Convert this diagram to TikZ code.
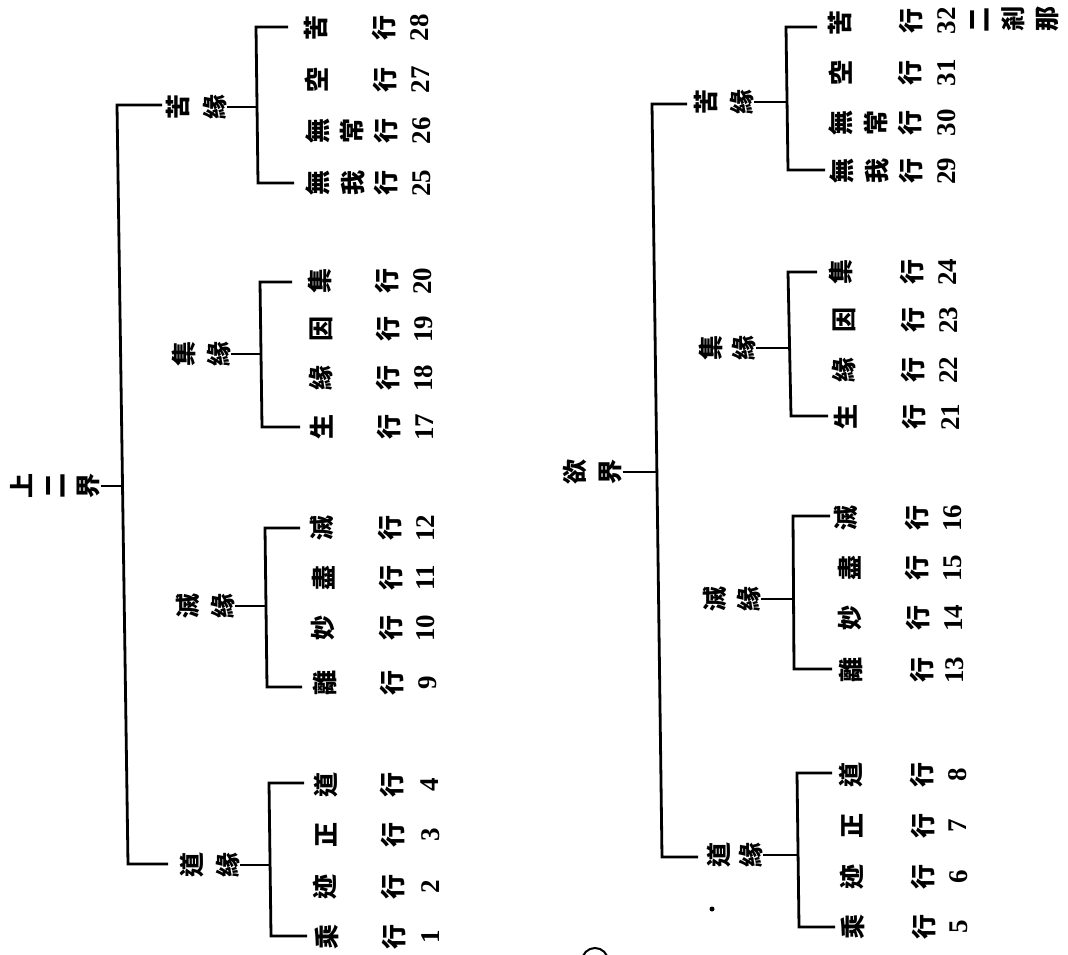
\documentclass[tikz,border=0pt]{standalone}
\usepackage{fontspec}
\newfontfamily\cjkfam{Noto Sans CJK TC}
\newfontfamily\numfam{Liberation Serif}
\newcommand\chr[3]{\node[ch] (#1) at (#2) {#3};}
\newcommand\nmb[3]{\node[num] (#1) at (#2) {#3};}
\begin{document}
\begin{tikzpicture}[x=1pt,y=-1pt,
  ch/.style={rotate=90,inner sep=0pt,font=\cjkfam\bfseries\fontsize{25}{25}\selectfont},
  num/.style={rotate=90,inner sep=0pt,font=\numfam\bfseries\fontsize{27}{27}\selectfont},
  ln/.style={line width=2.8pt,line join=miter,line cap=butt}]
\useasboundingbox (0,0) rectangle (1068,955);
\fill[white] (0,0) rectangle (1068,955);

% ---------------- left tree ----------------
\chr{Lr1}{22,486}{上}\chr{Lr2}{56,486}{二}\chr{Lr3}{89,486}{界}
\coordinate (LbT) at (117,105); \coordinate (LbB) at (128,864);
\coordinate (LbM) at (122.5,488);
\coordinate (LbTe) at (162,105); \coordinate (LbBe) at (168,864);
\draw[ln] (LbTe) -- (LbT) -- (LbB) -- (LbBe);
\draw[ln] (Lr3.south) -- (Lr3.south -| LbM);

% labels
\chr{Lk1}{178,107}{苦}\chr{Lk2}{215,107}{緣}
\chr{Lq1}{184,354}{集}\chr{Lq2}{219,354}{緣}
\chr{Lm1}{188,606}{滅}\chr{Lm2}{223,606}{緣}
\chr{Ld1}{192,865}{道}\chr{Ld2}{228,865}{緣}

% brackets
\coordinate (LkT) at (256,27); \coordinate (LkB) at (258,183); \coordinate (LkM) at (257,107);
\coordinate (Le28) at (288,27); \coordinate (Le25) at (294,183);
\draw[ln] (Le28) -- (LkT) -- (LkB) -- (Le25);
\draw[ln] (Lk2.south) -- (Lk2.south -| LkM);

\coordinate (LqT) at (260,282); \coordinate (LqB) at (262,427); \coordinate (LqM) at (261,354);
\coordinate (Le20) at (292,282); \coordinate (Le17) at (300,427);
\draw[ln] (Le20) -- (LqT) -- (LqB) -- (Le17);
\draw[ln] (Lq2.south) -- (Lq2.south -| LqM);

\coordinate (LmT) at (265,528); \coordinate (LmB) at (267,687); \coordinate (LmM) at (266,606);
\coordinate (Le12) at (300,528); \coordinate (Le9) at (302,687);
\draw[ln] (Le12) -- (LmT) -- (LmB) -- (Le9);
\draw[ln] (Lm2.south) -- (Lm2.south -| LmM);

\coordinate (LdT) at (269,783); \coordinate (LdB) at (271,936); \coordinate (LdM) at (270,865);
\coordinate (Le4) at (304,783); \coordinate (Le1) at (307,936);
\draw[ln] (Le4) -- (LdT) -- (LdB) -- (Le1);
\draw[ln] (Ld2.south) -- (Ld2.south -| LdM);

% leaves
\chr{L28a}{316,28}{苦}\chr{L28x}{384,28}{行}\nmb{L28n}{420,28}{28}
\chr{L27a}{317,80}{空}\chr{L27x}{385,80}{行}\nmb{L27n}{421,80}{27}
\chr{L26a}{318,131}{無}\chr{L26b}{352,131}{常}\chr{L26x}{386,131}{行}\nmb{L26n}{422,131}{26}
\chr{L25a}{318,183}{無}\chr{L25b}{353,183}{我}\chr{L25x}{386,183}{行}\nmb{L25n}{422,183}{25}
\chr{L20a}{320,281}{集}\chr{L20x}{387,281}{行}\nmb{L20n}{423,281}{20}
\chr{L19a}{321,329}{因}\chr{L19x}{388,329}{行}\nmb{L19n}{424,329}{19}
\chr{L18a}{321,378}{緣}\chr{L18x}{388,378}{行}\nmb{L18n}{424,378}{18}
\chr{L17a}{322,427}{生}\chr{L17x}{389,427}{行}\nmb{L17n}{425,427}{17}
\chr{L12a}{322,528}{滅}\chr{L12x}{390,528}{行}\nmb{L12n}{426,528}{12}
\chr{L11a}{324,578}{盡}\chr{L11x}{391,578}{行}\nmb{L11n}{426,578}{11}
\chr{L10a}{323,628}{妙}\chr{L10x}{391,628}{行}\nmb{L10n}{426,628}{10}
\chr{L9a}{325,683}{離}\chr{L9x}{392,683}{行}\nmb{L9n}{428,683}{9}
\chr{L4a}{326,785}{道}\chr{L4x}{392,785}{行}\nmb{L4n}{430,785}{4}
\chr{L3a}{326,835}{正}\chr{L3x}{393,835}{行}\nmb{L3n}{431,835}{3}
\chr{L2a}{325,887}{迹}\chr{L2x}{393,887}{行}\nmb{L2n}{431,887}{2}
\chr{L1a}{327,937}{乘}\chr{L1x}{394,937}{行}\nmb{L1n}{431,937}{1}

% ---------------- right tree ----------------
\chr{Rr1}{575,472}{欲}\chr{Rr2}{611,472}{界}
\coordinate (RbT) at (652,104); \coordinate (RbB) at (662,857);
\coordinate (RbM) at (657,472);
\coordinate (RbTe) at (687,104); \coordinate (RbBe) at (698,857);
\draw[ln] (RbTe) -- (RbT) -- (RbB) -- (RbBe);
\draw[ln] (Rr2.south) -- (Rr2.south -| RbM);

\chr{Rk1}{706,102}{苦}\chr{Rk2}{742,102}{緣}
\chr{Rq1}{711,348}{集}\chr{Rq2}{744,348}{緣}
\chr{Rm1}{715,599}{滅}\chr{Rm2}{749,599}{緣}
\chr{Rd1}{719,855}{道}\chr{Rd2}{751,855}{緣}

\coordinate (RkT) at (786,27); \coordinate (RkB) at (788,170); \coordinate (RkM) at (787,102);
\coordinate (Re32) at (817,27); \coordinate (Re29) at (825,170);
\draw[ln] (Re32) -- (RkT) -- (RkB) -- (Re29);
\draw[ln] (Rk2.south) -- (Rk2.south -| RkM);

\coordinate (RqT) at (788,272); \coordinate (RqB) at (791,416); \coordinate (RqM) at (790,348);
\coordinate (Re24) at (817,272); \coordinate (Re21) at (828,416);
\draw[ln] (Re24) -- (RqT) -- (RqB) -- (Re21);
\draw[ln] (Rq2.south) -- (Rq2.south -| RqM);

\coordinate (RmT) at (793,516); \coordinate (RmB) at (794,669); \coordinate (RmM) at (793.5,599);
\coordinate (Re16) at (830,516); \coordinate (Re13) at (832,669);
\draw[ln] (Re16) -- (RmT) -- (RmB) -- (Re13);
\draw[ln] (Rm2.south) -- (Rm2.south -| RmM);

\coordinate (RdT) at (797,773); \coordinate (RdB) at (799,927); \coordinate (RdM) at (798,855);
\coordinate (Re8) at (832,773); \coordinate (Re5) at (835,927);
\draw[ln] (Re8) -- (RdT) -- (RdB) -- (Re5);
\draw[ln] (Rd2.south) -- (Rd2.south -| RdM);

\chr{R32a}{840,23}{苦}\chr{R32x}{911,21}{行}\nmb{R32n}{947,21}{32}
\chr{R32e}{980,20}{二}\chr{R32f}{1013,19}{剎}\chr{R32g}{1047,19}{那}
\chr{R31a}{841,73}{空}\chr{R31x}{910,73}{行}\nmb{R31n}{947,73}{31}
\chr{R30a}{841,123}{無}\chr{R30b}{876,123}{常}\chr{R30x}{910,123}{行}\nmb{R30n}{947,123}{30}
\chr{R29a}{842,171}{無}\chr{R29b}{877,171}{我}\chr{R29x}{911,171}{行}\nmb{R29n}{947,171}{29}
\chr{R24a}{841,272}{集}\chr{R24x}{912,272}{行}\nmb{R24n}{948,272}{24}
\chr{R23a}{844,320}{因}\chr{R23x}{913,320}{行}\nmb{R23n}{949,320}{23}
\chr{R22a}{844,370}{緣}\chr{R22x}{913,370}{行}\nmb{R22n}{949,370}{22}
\chr{R21a}{846,417}{生}\chr{R21x}{914,417}{行}\nmb{R21n}{951,417}{21}
\chr{R16a}{846,518}{滅}\chr{R16x}{917,518}{行}\nmb{R16n}{953,518}{16}
\chr{R15a}{850,568}{盡}\chr{R15x}{917,568}{行}\nmb{R15n}{953,568}{15}
\chr{R14a}{850,618}{妙}\chr{R14x}{918,618}{行}\nmb{R14n}{954,618}{14}
\chr{R13a}{851,670}{離}\chr{R13x}{922,670}{行}\nmb{R13n}{955,670}{13}
\chr{R8a}{851,775}{道}\chr{R8x}{922,775}{行}\nmb{R8n}{958,775}{8}
\chr{R7a}{852,826}{正}\chr{R7x}{923,826}{行}\nmb{R7n}{958,826}{7}
\chr{R6a}{852,877}{迹}\chr{R6x}{923,877}{行}\nmb{R6n}{959,877}{6}
\chr{R5a}{853,927}{乘}\chr{R5x}{924,927}{行}\nmb{R5n}{959,927}{5}

% stray marks of the scan
\fill (712,909) circle (2.5);
\draw[line width=2pt] (595,961) circle (13);
\end{tikzpicture}
\end{document}
